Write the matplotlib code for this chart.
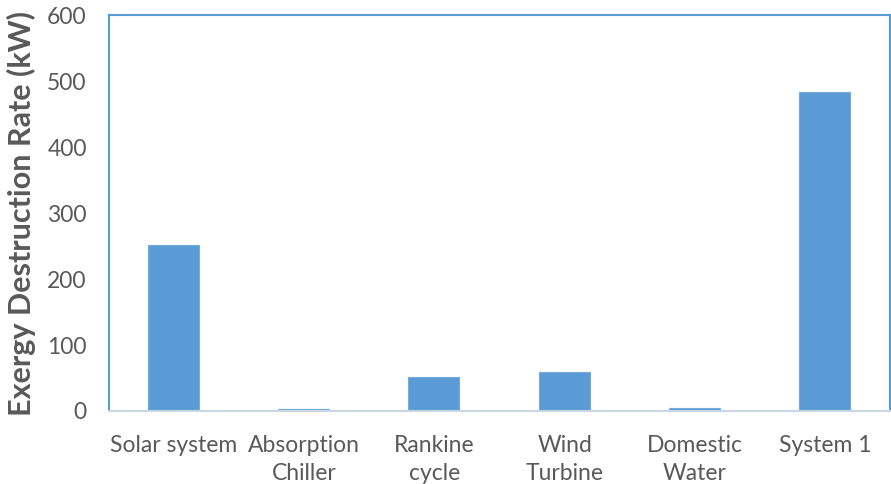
import numpy as np
import matplotlib.pyplot as plt

# Exergy destruction rate per subsystem (kW)
components = ["Solar system", "Absorption\nChiller", "Rankine\ncycle",
              "Wind\nTurbine", "Domestic\nWater", "System 1"]
exergy_destruction = [251, 3, 51, 59, 5, 484]
y_ticks = [0, 100, 200, 300, 400, 500, 600]

plt.rcParams['font.family'] = ['Lato', 'DejaVu Sans']
bar_color = "#5B9BD5"
text_color = "#595959"

fig = plt.figure(figsize=(8.91, 4.84), dpi=100)
ax = fig.add_axes([0.1223, 0.151, 0.8767, 0.817])

x = np.arange(len(components))
ax.bar(x, exergy_destruction, 0.4, color=bar_color, edgecolor="#DDEBF7", linewidth=0.3)

ax.set_xlim(-0.5, len(components) - 0.5)
ax.set_ylim(0, 600)
ax.set_yticks(y_ticks)
ax.set_xticks(x)
ax.set_xticklabels(components, fontsize=16.5, color=text_color, linespacing=1.45)
ax.tick_params(axis="y", labelsize=16.5, labelcolor=text_color, length=0, pad=16)
ax.tick_params(axis="x", length=0, pad=17)
ax.set_ylabel("Exergy Destruction Rate (kW)", fontsize=22, fontweight="bold",
              color=text_color, labelpad=8)

for side in ["left", "top", "right"]:
    ax.spines[side].set_color(bar_color)
    ax.spines[side].set_linewidth(1.5)
ax.spines["bottom"].set_color("#C9D6E3")
ax.spines["bottom"].set_linewidth(1.5)

fig.savefig("out.png", dpi=100)
